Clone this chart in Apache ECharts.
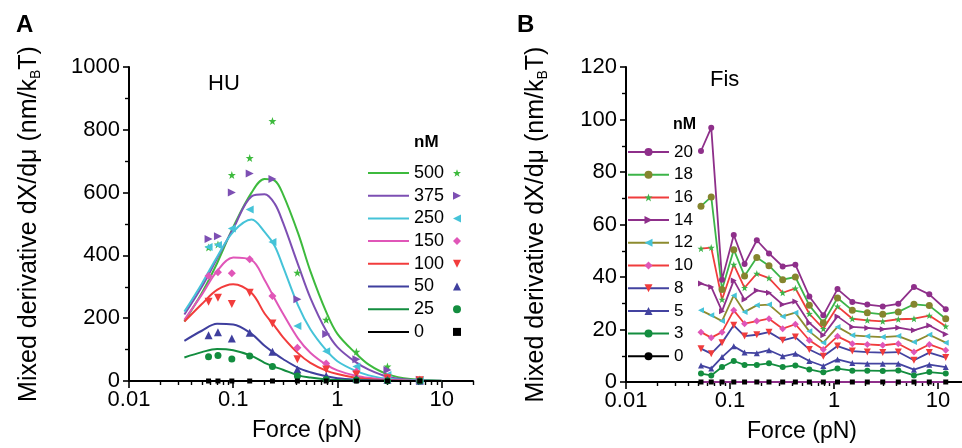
<!DOCTYPE html>
<html><head><meta charset="utf-8">
<script src="https://cdn.jsdelivr.net/npm/echarts@6/dist/echarts.min.js"></script>
<style>html,body{margin:0;padding:0;background:#fff}#c{width:962px;height:448px}</style>
</head><body><div id="c"></div>
<script>
const FONT = '"Liberation Sans", Arial, Helvetica, sans-serif';

// ---------- Panel A : HU ----------
const huConc = ['500', '375', '250', '150', '100', '50', '25', '0'];
const huForce = [0.058, 0.0714, 0.097, 0.144, 0.238, 0.413, 0.78, 1.52, 3.02, 6.17];
const hu500 = [425, 435, 656, 710, 828, 345, 195, 93, 46, 5];
const hu375 = [452, 461, 600, 661, 643, 260, 150, 69, 35, 4];
const hu250 = [427, 433, 486, 546, 443, 175, 95, 46, 19, 3];
const hu150 = [334, 346, 343, 388, 271, 106, 56, 30, 13, 3];
const hu100 = [252, 265, 245, 281, 183, 69, 37, 21, 9, 2];
const hu50 = [146, 155, 135, 154, 93, 37, 16, 8, 4, 1];
const hu25 = [77, 81, 70, 80, 46, 16, 5, 3, 1, 0];
const hu0 = [0, 0, 0, 0, 0, 0, 0, 0, 0, 0];

const huFitForce = [0.034, 0.05, 0.07, 0.1, 0.15, 0.2, 0.25, 0.3, 0.42, 0.55, 0.78, 1, 1.5, 2, 3, 5, 10];
const huFit500 = [190, 280, 375, 490, 600, 643, 638, 595, 470, 350, 220, 150, 88, 52, 22, 6, 1];
const huFit375 = [212, 300, 390, 485, 588, 595, 565, 505, 370, 265, 160, 108, 60, 36, 14, 4, 0.5];
const huFit250 = [221, 310, 395, 475, 514, 475, 430, 365, 240, 165, 98, 63, 32, 18, 7, 2, 0];
const huFit150 = [195, 275, 350, 393, 385, 322, 262, 215, 135, 90, 52, 34, 17, 10, 4, 1, 0];
const huFit100 = [189, 245, 290, 308, 280, 215, 175, 140, 88, 58, 33, 22, 10, 6, 2, 0.5, 0];
const huFit50 = [128, 160, 182, 180, 150, 112, 88, 70, 42, 28, 15, 9, 4, 2, 1, 0, 0];
const huFit25 = [75, 92, 102, 98, 80, 58, 45, 36, 18, 11, 5, 3, 1.5, 1, 0.3, 0, 0];
const huFit0 = [0, 0, 0, 0, 0, 0, 0, 0, 0, 0, 0, 0, 0, 0, 0, 0, 0];

// ---------- Panel B : Fis ----------
const fisConc = ['20', '18', '16', '14', '12', '10', '8', '5', '3', '0'];
const fisForce = [0.0526, 0.066, 0.0838, 0.1087, 0.138, 0.181, 0.237, 0.321, 0.425, 0.579, 0.789, 1.08, 1.5, 2.09, 2.94, 4.15, 5.87, 8.24, 11.86];
const fis20 = [88, 96.9, 39, 56, 45, 54, 49, 44, 44.7, 32.6, 25.4, 35.4, 30.5, 29.5, 28.8, 29.8, 36.2, 33.4, 27.7];
const fis18 = [67, 70.5, 35.2, 50.4, 40.4, 47.4, 44.3, 39, 40, 29.2, 22.6, 32, 27.3, 26.4, 25.8, 26.7, 29.6, 29.1, 24.1];
const fis16 = [50.8, 51.2, 31.4, 44.7, 35.9, 41.3, 39.6, 34, 35.7, 26, 20.3, 28.8, 24.1, 23.5, 23.1, 23.9, 24.1, 25.3, 21.2];
const fis14 = [37.5, 36.2, 27, 38.7, 31.4, 34.9, 34, 29.5, 30.7, 22.5, 17.8, 25, 21, 20.6, 20.1, 20.7, 19.7, 21.5, 18.2];
const fis12 = [27.3, 25.4, 23.2, 33, 26.7, 29.2, 29.5, 25, 26.4, 19.3, 15, 21, 17.8, 17.4, 17.1, 17.5, 15.2, 18, 15];
const fis10 = [19, 16.9, 19, 27.3, 22.2, 23.2, 24.1, 20.3, 22, 15.9, 12.4, 17.4, 14.6, 14.3, 14, 14.6, 11.4, 14.3, 12.1];
const fis8 = [12.7, 10.8, 15, 21.6, 17.5, 18, 19, 15.9, 17.1, 12.4, 9.8, 13.7, 11.8, 11.4, 11.2, 11.4, 8.3, 11.2, 9.3];
const fis5 = [6.3, 5.1, 9.5, 13.6, 11.2, 11, 12.1, 9.8, 10.8, 8, 6.1, 8.6, 7.2, 7, 7, 7, 4.7, 6.6, 5.7];
const fis3 = [3.2, 2.5, 5.7, 8, 6.5, 6.5, 7.1, 5.7, 6.3, 4.8, 3.7, 5.1, 4.3, 4.3, 4.2, 4.4, 2.5, 3.8, 3.2];
const fis0 = [0, 0, 0, 0, 0, 0, 0, 0, 0, 0, 0, 0, 0, 0, 0, 0, 0, 0, 0];

// tick labels
const xMajorTicks = [0.01, 0.1, 1, 10];
const xMinorTicksA = [0.02, 0.03, 0.04, 0.05, 0.06, 0.07, 0.08, 0.09, 0.2, 0.3, 0.4, 0.5, 0.6, 0.7, 0.8, 0.9, 2, 3, 4, 5, 6, 7, 8, 9, 20];
const xMinorTicksB = [0.02, 0.03, 0.04, 0.05, 0.06, 0.07, 0.08, 0.09, 0.2, 0.3, 0.4, 0.5, 0.6, 0.7, 0.8, 0.9, 2, 3, 4, 5, 6, 7, 8, 9];

// ---------- styles ----------
const STAR = 'path://M0,-10L2.35,-3.24L9.51,-3.09L3.8,1.24L5.88,8.09L0,4L-5.88,8.09L-3.8,1.24L-9.51,-3.09L-2.35,-3.24Z';
const RIGHT = 'path://M0,0L10,5L0,10Z';
const LEFT = 'path://M10,0L0,5L10,10Z';
const DOWN = 'path://M0,0L10,0L5,10Z';
const UP = 'path://M5,0L10,10L0,10Z';

const huColors = ['#3dba3d', '#7d4fb3', '#45c3d8', '#e056b8', '#f23c3c', '#3f3f9e', '#138d3f', '#000000'];
const huSymbols = [STAR, RIGHT, LEFT, 'diamond', DOWN, UP, 'circle', 'rect'];
const huSizes = [8, 8, 8, 8, 8, 8, 7, 5];
const huData = [hu500, hu375, hu250, hu150, hu100, hu50, hu25, hu0];
const huFits = [huFit500, huFit375, huFit250, huFit150, huFit100, huFit50, huFit25, huFit0];

const fisLine = ['#8e2f8a', '#3cb449', '#f03c3c', '#8e2f8a', '#8d8b2f', '#f03c3c', '#4343a0', '#4343a0', '#138d3f', '#8e2f8a'];
const fisMark = ['#8e2f8a', '#85852e', '#3cb449', '#8e2f8a', '#45c3d8', '#e056b8', '#f03c3c', '#4343a0', '#138d3f', '#000000'];
const fisSymbols = ['circle', 'circle', STAR, RIGHT, LEFT, 'diamond', DOWN, UP, 'circle', 'rect'];
const fisSizes = [6, 7, 7, 6, 6, 7, 7, 6, 6, 5];
const fisData = [fis20, fis18, fis16, fis14, fis12, fis10, fis8, fis5, fis3, fis0];

const series = [];
huConc.forEach((c, i) => {
  series.push({
    name: c, type: 'line', xAxisIndex: 0, yAxisIndex: 0,
    data: huFitForce.map((x, j) => [x, huFits[i][j]]),
    smooth: 0.35, symbol: 'none', showSymbol: false,
    lineStyle: { color: huColors[i], width: 2 }, itemStyle: { color: huColors[i] },
    z: 2
  });
});
huConc.forEach((c, i) => {
  series.push({
    name: c + ' nM data', type: 'scatter', xAxisIndex: 0, yAxisIndex: 0,
    data: huForce.map((x, j) => [x, huData[i][j]]),
    symbol: huSymbols[i], symbolSize: huSizes[i],
    itemStyle: { color: huColors[i], opacity: 1 }, z: 3
  });
});
fisConc.forEach((c, i) => {
  series.push({
    name: c, type: 'line', xAxisIndex: 1, yAxisIndex: 1,
    data: fisForce.map((x, j) => [x, fisData[i][j]]),
    symbol: fisSymbols[i], symbolSize: fisSizes[i], showSymbol: true,
    lineStyle: { color: fisLine[i], width: 1.8 },
    itemStyle: { color: fisMark[i] }, z: 3
  });
});

const axisLine = { show: true, lineStyle: { color: '#000', width: 2 } };
const tickLab = { color: '#000', fontSize: 22, fontFamily: FONT, formatter: v => String(v) };
const yName = 'Mixed derivative dX/dμ (nm/k{sub|B}T)';
const yNameStyle = {
  color: '#000', fontSize: 25, fontFamily: FONT, lineHeight: 28,
  rich: { sub: { fontSize: 14, fontFamily: FONT, color: '#000', verticalAlign: 'bottom', lineHeight: 14, padding: [12, 0, 0, 0] } }
};

function xMain(grid, max, nameShift) {
  return {
    type: 'log', logBase: 10, gridIndex: grid, min: 0.01, max: max, position: 'bottom',
    axisLine: axisLine,
    axisTick: { show: true, inside: false, length: 7, lineStyle: { width: 1.6, color: '#000' }, customValues: xMajorTicks },
    axisLabel: Object.assign({ margin: 8, customValues: xMajorTicks }, tickLab),
    minorTick: { show: false }, splitLine: { show: false },
    name: 'Force (pN)', nameLocation: 'middle', nameGap: 38,
    nameTextStyle: { color: '#000', fontSize: 23, fontFamily: FONT, padding: [0, 0, 0, nameShift] }
  };
}
// overlay axis (in an identical overlay grid) used only to draw the log minor ticks
function xMinor(grid, max, ticks) {
  return {
    type: 'log', logBase: 10, gridIndex: grid, min: 0.01, max: max, position: 'bottom',
    axisLine: { show: false },
    axisTick: { show: true, inside: false, length: 4, lineStyle: { width: 1.4, color: '#000' }, customValues: ticks },
    axisLabel: { show: false }, splitLine: { show: false }
  };
}
function yAxis(grid, max, interval, gap) {
  return {
    type: 'value', gridIndex: grid, min: 0, max: max, interval: interval,
    axisLine: axisLine,
    axisTick: { show: true, inside: false, length: 6, lineStyle: { width: 1.6, color: '#000' } },
    minorTick: { show: true, splitNumber: 2, length: 4, lineStyle: { width: 1.4, color: '#000' } },
    axisLabel: Object.assign({ margin: 9 }, tickLab),
    splitLine: { show: false },
    name: yName, nameLocation: 'middle', nameGap: gap, nameTextStyle: yNameStyle
  };
}
function yHidden(grid) {
  return { type: 'value', gridIndex: grid, min: 0, max: 1, show: false, splitLine: { show: false } };
}

const titleStyle = (size, bold) => ({ color: '#000', fontSize: size, fontFamily: FONT, fontWeight: bold ? 'bold' : 'normal' });

const gridA = { left: 129, top: 67, width: 344, height: 314 };
const gridB = { left: 626, top: 67, width: 336, height: 315 };

const option = {
  animation: false,
  backgroundColor: '#fff',
  title: [
    { text: 'A', left: 16, top: 13, padding: 0, textStyle: titleStyle(24, true) },
    { text: 'B', left: 517, top: 13, padding: 0, textStyle: titleStyle(24, true) },
    { text: 'HU', left: 208, top: 73, padding: 0, textStyle: titleStyle(22, false) },
    { text: 'Fis', left: 710, top: 69, padding: 0, textStyle: titleStyle(22, false) },
    { text: 'nM', left: 414, top: 134, padding: 0, textStyle: titleStyle(17, true) },
    { text: 'nM', left: 673, top: 117, padding: 0, textStyle: titleStyle(16, true) }
  ],
  grid: [gridA, gridB, Object.assign({}, gridA), Object.assign({}, gridB)],
  xAxis: [xMain(0, 20, 12), xMain(1, 17, 16), xMinor(2, 20, xMinorTicksA), xMinor(3, 17, xMinorTicksB)],
  yAxis: [yAxis(0, 1000, 200, 86), yAxis(1, 120, 20, 76), yHidden(2), yHidden(3)],
  legend: [
    {
      data: huConc, orient: 'vertical', left: 368, top: 164, padding: 0,
      icon: 'rect', itemWidth: 41, itemHeight: 2, itemGap: 4.7, selectedMode: false,
      textStyle: { color: '#000', fontSize: 18, fontFamily: FONT, lineHeight: 18 }
    },
    {
      data: huConc.map(c => c + ' nM data'), orient: 'vertical', left: 453, top: 164, padding: 0,
      itemWidth: 8, itemHeight: 8, itemGap: 4.7, selectedMode: false,
      formatter: () => ' ',
      textStyle: { color: '#000', fontSize: 18, fontFamily: FONT, lineHeight: 18 }
    },
    {
      data: fisConc, orient: 'vertical', left: 627, top: 143.5, padding: 0,
      itemWidth: 41, itemHeight: 10, itemGap: 5.7, selectedMode: false,
      textStyle: { color: '#000', fontSize: 17, fontFamily: FONT, lineHeight: 17 }
    }
  ],
  series: series
};

const chart = echarts.init(document.getElementById('c'), null, { renderer: 'canvas' });
chart.setOption(option);
</script>
</body></html>
